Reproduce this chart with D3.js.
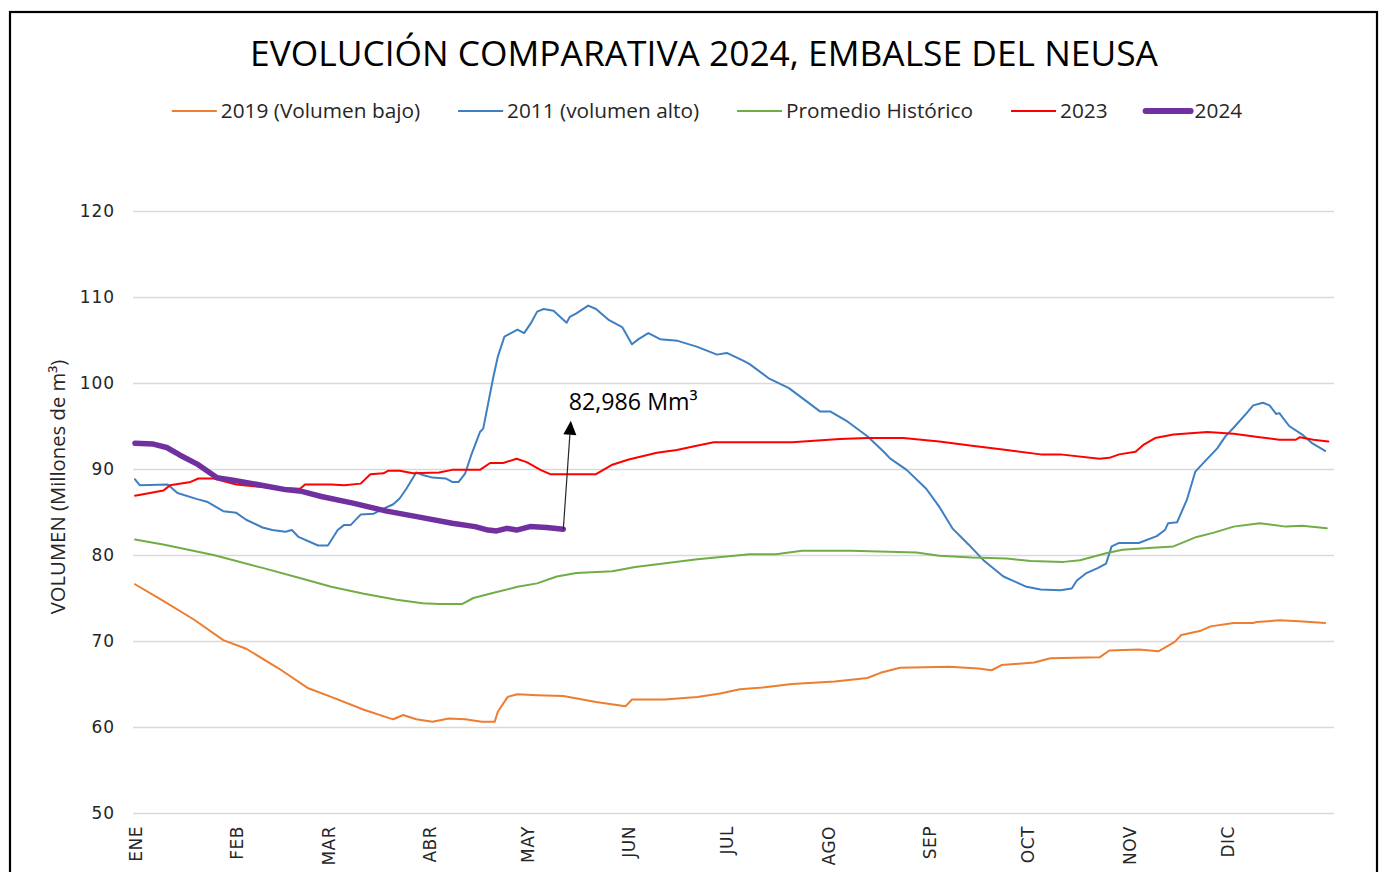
<!DOCTYPE html>
<html>
<head>
<meta charset="utf-8">
<script src="https://cdn.jsdelivr.net/npm/d3@7"></script>
<style>
  html, body { margin: 0; padding: 0; background: #fff; }
  svg { display: block; }
</style>
</head>
<body>
<svg id="chart" width="1384" height="872"></svg>
<script>
// ---------- DATA ----------
const titleText = "EVOLUCIÓN COMPARATIVA 2024, EMBALSE DEL NEUSA";
const yAxisTitle = "VOLUMEN (Millones de m³)";
const monthLabels = ["ENE","FEB","MAR","ABR","MAY","JUN","JUL","AGO","SEP","OCT","NOV","DIC"];
const monthStartDays = [0,31,59,90,120,151,181,212,243,273,304,334];
const yTickValues = [50,60,70,80,90,100,110,120];
const seriesNames = ["2019 (Volumen bajo)","2011 (volumen alto)","Promedio Histórico","2023","2024"];

// [day of year, volume in Mm3]
const s2019 = [[0,76.6],[8,74.8],[18,72.5],[27,70.1],[34,69.1],[44,66.8],[53,64.5],[60,63.5],[70,62.0],[78,61.0],[79,60.9],[82,61.4],[86,60.9],[91,60.6],[96,61.0],[101,60.9],[106,60.6],[110,60.6],[111,61.8],[114,63.5],[117,63.8],[123,63.7],[131,63.6],[141,62.9],[150,62.4],[152,63.2],[162,63.2],[172,63.5],[179,63.9],[185,64.4],[192,64.6],[201,65.0],[214,65.3],[224,65.7],[228,66.3],[234,66.9],[249,67.0],[258,66.8],[262,66.6],[265,67.2],[275,67.5],[280,68.0],[295,68.1],[298,68.9],[307,69.0],[313,68.8],[318,69.9],[320,70.7],[326,71.2],[329,71.7],[336,72.1],[342,72.1],[343,72.2],[350,72.4],[356,72.3],[364,72.1]];

const s2011 = [[0,88.8],[1.5,88.1],[10,88.2],[13,87.2],[19,86.5],[22,86.2],[27,85.1],[31,84.9],[34,84.1],[39,83.2],[42,82.9],[46,82.7],[48,82.9],[50,82.1],[56,81.1],[59,81.1],[62,82.9],[64,83.5],[66,83.5],[69,84.7],[73,84.8],[75,85.2],[79,85.9],[81,86.6],[83,87.7],[86,89.6],[88,89.3],[91,89.0],[95,88.9],[97,88.5],[99,88.5],[101,89.5],[103,91.8],[105.5,94.3],[106.5,94.7],[108,97.6],[109.6,100.7],[111,103.1],[113,105.4],[115,105.8],[117,106.2],[119,105.8],[121,106.9],[123,108.3],[125,108.6],[128,108.4],[132,107.0],[133,107.7],[135,108.1],[138.6,109.0],[141,108.6],[145,107.3],[149,106.5],[152,104.5],[154,105.1],[157,105.8],[160.6,105.1],[166,104.9],[172,104.2],[178,103.3],[181,103.5],[186,102.6],[188,102.2],[194,100.5],[200,99.4],[209.5,96.7],[212.6,96.7],[218,95.5],[224,93.8],[229,92.0],[231,91.2],[236,89.9],[242,87.7],[246,85.6],[250,83.1],[255,81.2],[259.5,79.4],[265.6,77.5],[272.7,76.3],[277,76.0],[283,75.9],[286.5,76.1],[288,77.0],[291,77.9],[294.6,78.5],[297,79.0],[298.7,81.0],[301,81.4],[307,81.4],[312.5,82.2],[315,82.9],[316,83.7],[318.7,83.8],[321.7,86.4],[324.3,89.7],[327,90.8],[331,92.4],[333.5,93.8],[336,94.8],[340,96.5],[342,97.4],[345,97.7],[347,97.4],[349,96.4],[350,96.5],[353,95.0],[357,94.0],[360,93.0],[364,92.1]];

const sPromedio = [[0,81.8],[9,81.2],[24,80.0],[31,79.3],[39,78.5],[51.5,77.2],[60,76.3],[70,75.5],[80,74.8],[88,74.4],[93,74.3],[100,74.3],[103.5,75.0],[110.6,75.7],[117,76.3],[123,76.7],[129,77.5],[135,77.9],[146,78.1],[153,78.6],[161.6,79.0],[172,79.5],[188,80.1],[196,80.1],[204,80.5],[219,80.5],[239,80.3],[246,79.9],[256,79.7],[266.6,79.6],[274,79.3],[284,79.2],[289,79.4],[297,80.2],[302,80.6],[310,80.8],[317.6,81.0],[324.7,82.1],[330,82.6],[336,83.3],[344,83.7],[352,83.3],[357,83.4],[364.5,83.1]];

const s2023 = [[0,86.9],[8.7,87.5],[10.7,88.1],[17,88.5],[19.4,88.9],[24,88.9],[31,88.2],[39,87.9],[50.5,87.7],[52,88.2],[60,88.2],[64,88.1],[69,88.3],[72,89.4],[76,89.5],[77.5,89.8],[81,89.8],[85,89.5],[93,89.6],[97,89.9],[105.5,89.9],[108.6,90.7],[112.6,90.7],[116.7,91.2],[119.8,90.8],[124,89.9],[127,89.4],[141,89.4],[146,90.5],[151,91.1],[159.6,91.9],[165.7,92.2],[171.8,92.7],[177,93.1],[201,93.1],[215.6,93.5],[224,93.6],[235,93.6],[246,93.2],[256,92.7],[266.6,92.2],[277,91.7],[283,91.7],[295,91.2],[298,91.3],[301,91.7],[306,92.0],[308.4,92.8],[312,93.6],[317.6,94.0],[328,94.3],[336,94.1],[344,93.7],[350,93.4],[355,93.4],[356.3,93.7],[360.4,93.4],[365,93.2]];

const s2024 = [[0,93.0],[5.6,92.9],[9.7,92.5],[13.8,91.6],[18.9,90.6],[25,89.0],[30,88.7],[36,88.3],[46,87.6],[51,87.4],[57,86.8],[67,86.0],[77,85.1],[87,84.4],[97,83.7],[104,83.3],[108,82.9],[110.6,82.8],[113.7,83.1],[116.7,82.9],[120.8,83.3],[125.9,83.2],[131,82.986]];

const seriesColors = ["#ED7D31","#3F7FC1","#70AD47","#FF0000","#7030A0"];
const seriesWidths = [2,2,2,2,5.5];

const annotationDay = 131, annotationValue = 82.986;
const annotationText = "82,986 Mm³";
const arrowTipDay = 133.3, arrowTipValue = 95.6;

// ---------- CHART ----------
const svg = d3.select("#chart");
const x = d3.scaleLinear().domain([0, 365]).range([135, 1328.4]);
const y = d3.scaleLinear().domain([50, 120]).range([813, 211]);

// frame
svg.append("rect").attr("x", 10).attr("y", 12).attr("width", 1367).attr("height", 900)
  .attr("fill", "none").attr("stroke", "#000").attr("stroke-width", 2.2);

// title
const title = svg.append("text").attr("x", 704).attr("y", 66).attr("text-anchor", "middle")
  .attr("font-family", "'Open Sans', sans-serif").attr("font-size", 36).attr("fill", "#000")
  .text(titleText);
{
  const w = title.node().getComputedTextLength();
  title.attr("font-size", 36 * 908 / w);
}

// gridlines + y tick labels via axis
const yAxis = d3.axisLeft(y).tickValues(yTickValues).tickSize(-(1334 - 133)).tickPadding(18);
const gy = svg.append("g").attr("transform", "translate(133,0)").call(yAxis);
gy.select(".domain").remove();
gy.selectAll(".tick line").attr("stroke", "#d9d9d9").attr("stroke-width", 1.6);
gy.selectAll(".tick text").attr("font-family", "'DejaVu Sans', sans-serif").attr("font-size", 17)
  .attr("letter-spacing", "0.9px").attr("fill", "#262626");

// y axis title
svg.append("text").attr("transform", "translate(58,487) rotate(-90)")
  .attr("text-anchor", "middle").attr("dy", "0.35em")
  .attr("font-family", "'Open Sans', sans-serif").attr("font-size", 20.3).attr("fill", "#262626")
  .text(yAxisTitle);

// x axis month labels
const xAxis = d3.axisBottom(x).tickValues(monthStartDays).tickSize(0).tickFormat((d, i) => monthLabels[i]);
const gx = svg.append("g").attr("transform", "translate(0,826)").call(xAxis);
gx.select(".domain").remove();
gx.selectAll(".tick text")
  .attr("font-family", "'DejaVu Sans', sans-serif").attr("font-size", 17).attr("fill", "#262626")
  .attr("letter-spacing", "0.5px")
  .attr("text-anchor", "end").attr("transform", "rotate(-90)")
  .attr("x", 0).attr("y", 0).attr("dy", "0.36em");

// lines
const allSeries = [s2019, s2011, sPromedio, s2023, s2024];
const line = d3.line().x(d => x(d[0])).y(d => y(d[1])).curve(d3.curveLinear);
allSeries.forEach((s, i) => {
  svg.append("path").datum(s).attr("d", line).attr("fill", "none")
    .attr("stroke", seriesColors[i]).attr("stroke-width", seriesWidths[i])
    .attr("stroke-linejoin", "round").attr("stroke-linecap", "round");
});

// annotation arrow
const ax0 = x(annotationDay), ay0 = y(annotationValue);
const ax1 = x(arrowTipDay), ay1 = y(arrowTipValue);
const ang = Math.atan2(ay1 - ay0, ax1 - ax0);
const headLen = 14, headHalf = 6.5;
const bx = ax1 - headLen * Math.cos(ang), by = ay1 - headLen * Math.sin(ang);
svg.append("line").attr("x1", ax0).attr("y1", ay0).attr("x2", bx).attr("y2", by)
  .attr("stroke", "#262626").attr("stroke-width", 1.2);
const px = -Math.sin(ang), py = Math.cos(ang);
svg.append("path")
  .attr("d", `M${ax1},${ay1}L${bx + px * headHalf},${by + py * headHalf}L${bx - px * headHalf},${by - py * headHalf}Z`)
  .attr("fill", "#000");
svg.append("text").attr("x", ax1 - 2).attr("y", ay1 - 11)
  .attr("font-family", "'Open Sans', sans-serif").attr("font-size", 23.2).attr("fill", "#000")
  .text(annotationText);

// legend
const legend = svg.append("g");
const lineLen = 45, textGap = 4, itemGap = 38;
let cursor = 0;
seriesNames.forEach((name, i) => {
  const g = legend.append("g");
  g.append("line").attr("x1", 0).attr("x2", lineLen).attr("y1", 111).attr("y2", 111)
    .attr("stroke", seriesColors[i]).attr("stroke-width", i === 4 ? 6 : 2)
    .attr("stroke-linecap", i === 4 ? "round" : "butt");
  const t = g.append("text").attr("x", lineLen + textGap).attr("y", 118)
    .attr("font-family", "'Open Sans', sans-serif").attr("font-size", 20.8).attr("fill", "#262626")
    .text(name);
  const w = lineLen + textGap + t.node().getComputedTextLength();
  g.attr("transform", `translate(${cursor},0)`);
  cursor += w + itemGap;
});
const totalW = cursor - itemGap;
legend.attr("transform", `translate(${707 - totalW / 2},0)`);
</script>
</body>
</html>
